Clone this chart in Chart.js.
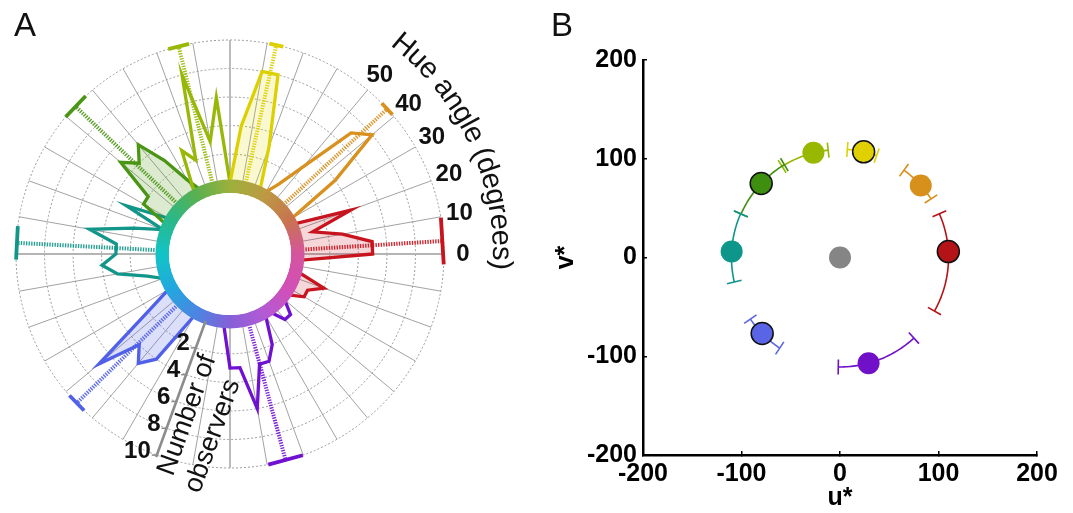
<!DOCTYPE html>
<html>
<head>
<meta charset="utf-8">
<script src="https://cdn.jsdelivr.net/npm/chart.js@4.4.0/dist/chart.umd.min.js"></script>
<style>
  html, body { margin: 0; padding: 0; background: #fff; }
  #wrap { position: relative; width: 1073px; height: 513px; overflow: hidden; }
  canvas { position: absolute; top: 0; }
  #polar { left: 0; }
  #uv { left: 540px; }
  .tag { position: absolute; top: 6px; font: 33px "Liberation Sans", Arial, sans-serif; color: #111; }
</style>
</head>
<body>
<div id="wrap">
  <canvas id="polar" width="540" height="513"></canvas>
  <canvas id="uv" width="533" height="513"></canvas>
  <div class="tag" style="left:14px">A</div>
  <div class="tag" style="left:551px">B</div>
</div>
<script>
// --- panel A: number of observers per 5 deg hue bin, per colour category ---
const categories = ["red", "orange", "yellow", "yellowGreen", "green", "teal", "blue", "purple"];
const redHue = [330, 335, 340, 0, 5, 10, 15, 20];
const redN = [1, 1, 2, 5, 5, 3, 1, 4];
const orangeHue = [35, 40, 45, 50, 55];
const orangeN = [4, 8, 7, 3, 1];
const yellowHue = [70, 75, 80, 85];
const yellowN = [3, 8, 8, 4];
const yellowGreenHue = [95, 100, 105, 110, 115];
const yellowGreenN = [6, 3, 8, 2, 3];
const greenHue = [120, 125, 130, 135, 140, 145, 150];
const greenN = [1, 3, 5, 4, 5, 2, 2];
const tealHue = [155, 165, 170, 175, 180, 185, 190, 195];
const tealN = [3, 2, 5, 3, 3, 4, 3, 1];
const blueHue = [215, 220, 225, 230, 235];
const blueN = [2, 7, 4, 5, 4];
const purpleHue = [270, 275, 280, 285, 290, 295, 310, 315];
const purpleN = [3, 3, 6, 3, 3, 2, 1, 1];

// mean hue angle and its error (degrees)
const meanHue = [3.5, 42.7, 77.5, 103.9, 136.3, 177, 224.2, 285.1];
const hueErr = [6.3, 2.1, 1.9, 2.9, 3.9, 4.5, 2.8, 4.8];

const hueTicks = [0, 10, 20, 30, 40, 50];
const observerTicks = [2, 4, 6, 8, 10];

// --- panel B: u*, v* coordinates (last one is the grey centre) ---
const uStar = [110, 82, 24, -27, -80, -110, -79, 29, 0];
const vStar = [6, 73, 107, 106, 75, 6, -77, -107, 0];
const arcFrom = [-29.5, 32.7, 70.2, 96.3, 121, 156.3, 214.4, 269.1];
const arcTo = [23.7, 53.7, 86.1, 122.5, 156.3, 193, 236.3, 312.6];

const lineColors = ["#c8141e", "#d8901e", "#dcd000", "#98b808", "#4a9614", "#12968a", "#5060e8", "#7010d0"];
const fillColors = ["rgba(200,20,30,0.17)", null, "rgba(225,215,0,0.18)", null, "rgba(80,150,20,0.2)", null, "rgba(80,96,232,0.2)", null];
const dotColors = ["#b41418", "#d8901c", "#e0d000", "#98b800", "#3e8e10", "#0f968a", "#5a64e6", "#7010c8", "#858585"];
const dotBorder = [1.5, 0, 1.5, 0, 1.5, 0, 1.5, 0, 0];

Chart.defaults.font.family = '"Liberation Sans", Arial, sans-serif';

const histHue = [redHue, orangeHue, yellowHue, yellowGreenHue, greenHue, tealHue, blueHue, purpleHue];
const histN = [redN, orangeN, yellowN, yellowGreenN, greenN, tealN, blueN, purpleN];

// radar goes clockwise from the start angle, so bin index i holds hue (360 - 5i)
const binCount = 72;
const binLabels = [];
for (let i = 0; i < binCount; i++) binLabels.push((360 - 5 * i) % 360);
const hueIndex = h => (360 - h) / 5;

const polarSets = categories.map((name, c) => {
  const counts = new Array(binCount).fill(0);
  histHue[c].forEach((h, j) => { counts[binLabels.indexOf(h)] = histN[c][j]; });
  return {
    label: name,
    data: counts,
    borderColor: lineColors[c],
    backgroundColor: fillColors[c] || "rgba(0,0,0,0)",
    fill: fillColors[c] ? "origin" : false
  };
});

const ringStops = [
  [0, "#d4559e"], [1 / 12, "#d24fb6"], [2 / 12, "#b45ad4"], [3 / 12, "#8560d8"],
  [4 / 12, "#4a86e2"], [5 / 12, "#22a8de"], [6 / 12, "#12c4c6"], [7 / 12, "#2ab88a"],
  [8 / 12, "#58b050"], [9 / 12, "#9cb03c"], [10 / 12, "#bc9a42"], [11 / 12, "#c8744e"], [1, "#d4559e"]
];

const polarDecor = {
  id: "polarDecor",
  afterDatasetsDraw(chart) {
    const s = chart.scales.r, ctx = chart.ctx;
    const cx = s.xCenter, cy = s.yCenter;
    const d0 = s.getDistanceFromCenterForValue(0);
    const d10 = s.getDistanceFromCenterForValue(10);
    const rOut = d0 + 3.2, rIn = rOut - 13.5;
    ctx.save();

    // hue wheel ring with white centre
    const g = ctx.createConicGradient(0, cx, cy);
    ringStops.forEach(st => g.addColorStop(st[0], st[1]));
    ctx.beginPath();
    ctx.arc(cx, cy, rOut, 0, Math.PI * 2);
    ctx.arc(cx, cy, rIn, 0, Math.PI * 2, true);
    ctx.fillStyle = g;
    ctx.fill();
    ctx.beginPath();
    ctx.arc(cx, cy, rIn, 0, Math.PI * 2);
    ctx.fillStyle = "#fff";
    ctx.fill();

    // mean hue lines with error caps
    meanHue.forEach((h, c) => {
      const a = s.getPointPosition(hueIndex(h), rOut + 1);
      const b = s.getPointPosition(hueIndex(h), d10);
      ctx.strokeStyle = lineColors[c];
      ctx.globalAlpha = 0.9;
      ctx.lineWidth = 4;
      ctx.setLineDash([1.4, 1.2]);
      ctx.beginPath(); ctx.moveTo(a.x, a.y); ctx.lineTo(b.x, b.y); ctx.stroke();
      ctx.globalAlpha = 1;
      ctx.setLineDash([]);
      const p = s.getPointPosition(hueIndex(h + hueErr[c]), d10);
      const q = s.getPointPosition(hueIndex(h - hueErr[c]), d10);
      ctx.lineWidth = 3.8;
      ctx.beginPath(); ctx.moveTo(p.x, p.y); ctx.lineTo(q.x, q.y); ctx.stroke();
    });

    // hue angle labels
    ctx.fillStyle = "#111";
    ctx.font = "bold 24px 'Liberation Sans', Arial, sans-serif";
    ctx.textAlign = "center";
    ctx.textBaseline = "middle";
    hueTicks.forEach(h => {
      const p = s.getPointPosition(hueIndex(h), d10 + 19);
      ctx.fillText(String(h), p.x, p.y);
    });

    // curved axis title
    ctx.font = "29px 'Liberation Sans', Arial, sans-serif";
    const R = d10 + 57;
    let ang = 52.5 * Math.PI / 180;
    for (const ch of "Hue angle (degrees)") {
      const w = ctx.measureText(ch).width;
      const mid = ang - (w / 2) / R;
      ctx.save();
      ctx.translate(cx + R * Math.cos(-mid), cy + R * Math.sin(-mid));
      ctx.rotate(-mid + Math.PI / 2);
      ctx.fillText(ch, 0, 0);
      ctx.restore();
      ang -= w / R;
    }

    // observer count axis along hue 250
    const axHue = 250;
    const pa = s.getPointPosition(hueIndex(axHue), d0);
    const pb = s.getPointPosition(hueIndex(axHue), d10 + 2);
    ctx.strokeStyle = "#8c8c8c";
    ctx.lineWidth = 2.6;
    ctx.beginPath(); ctx.moveTo(pa.x, pa.y); ctx.lineTo(pb.x, pb.y); ctx.stroke();
    ctx.font = "bold 24px 'Liberation Sans', Arial, sans-serif";
    ctx.textAlign = "right";
    ctx.lineWidth = 1.5;
    observerTicks.forEach(v => {
      const p = s.getPointPosition(hueIndex(axHue), s.getDistanceFromCenterForValue(v));
      ctx.beginPath(); ctx.moveTo(p.x, p.y); ctx.lineTo(p.x - 5, p.y); ctx.stroke();
      ctx.fillText(String(v), p.x - 6, p.y - 4);
    });

    const phi = -axHue * Math.PI / 180;
    const ux = Math.cos(phi), uy = Math.sin(phi);
    const rot = Math.atan2(-uy, -ux);
    const nx = -Math.sin(rot), ny = Math.cos(rot);
    ctx.font = "27px 'Liberation Sans', Arial, sans-serif";
    ctx.textAlign = "center";
    [["Number of", 166, 15], ["observers", 177, 46]].forEach(([txt, along, perp]) => {
      const x = cx + ux * along + nx * perp, y = cy + uy * along + ny * perp;
      ctx.save();
      ctx.translate(x, y);
      ctx.rotate(rot);
      ctx.fillText(txt, 0, 0);
      ctx.restore();
    });
    ctx.restore();
  }
};

new Chart(document.getElementById("polar"), {
  type: "radar",
  data: { labels: binLabels, datasets: polarSets },
  options: {
    responsive: false,
    animation: false,
    layout: { padding: { left: 16, top: 40, right: 96, bottom: 45 } },
    plugins: { legend: { display: false }, tooltip: { enabled: false } },
    elements: {
      point: { radius: 0, hoverRadius: 0 },
      line: { borderWidth: 3.3, tension: 0, borderJoinStyle: "miter" }
    },
    scales: {
      r: {
        min: -5,
        max: 10,
        startAngle: 90,
        ticks: { display: false, stepSize: 2 },
        pointLabels: { display: false },
        grid: {
          circular: true,
          lineWidth: 1,
          color: c => (c.tick && c.tick.value > 0 ? "#9a9a9a" : "rgba(0,0,0,0)")
        },
        border: { dash: [2, 2] },
        angleLines: {
          color: c => {
            const h = binLabels[c.index];
            if (h % 10 !== 0) return "rgba(0,0,0,0)";
            return h % 90 === 0 ? "#b4b4b4" : "#8a8a8a";
          },
          lineWidth: c => (binLabels[c.index] % 90 === 0 ? 1.8 : 0.8)
        }
      }
    }
  },
  plugins: [polarDecor]
});

// --- panel B ---
const uvArcs = {
  id: "uvArcs",
  beforeDatasetsDraw(chart) {
    const xs = chart.scales.x, ys = chart.scales.y, ctx = chart.ctx;
    const toPx = (r, deg) => {
      const t = deg * Math.PI / 180;
      return [xs.getPixelForValue(r * Math.cos(t)), ys.getPixelForValue(r * Math.sin(t))];
    };
    ctx.save();
    ctx.lineWidth = 1.6;
    arcFrom.forEach((a0, i) => {
      const r = Math.hypot(uStar[i], vStar[i]);
      ctx.strokeStyle = dotColors[i];
      ctx.beginPath();
      const steps = Math.max(2, Math.ceil(Math.abs(arcTo[i] - a0)));
      for (let k = 0; k <= steps; k++) {
        const [px, py] = toPx(r, a0 + (arcTo[i] - a0) * k / steps);
        if (k === 0) ctx.moveTo(px, py); else ctx.lineTo(px, py);
      }
      ctx.stroke();
      [a0, arcTo[i]].forEach(e => {
        const [x1, y1] = toPx(r - 7.6, e);
        const [x2, y2] = toPx(r + 7.6, e);
        ctx.beginPath(); ctx.moveTo(x1, y1); ctx.lineTo(x2, y2); ctx.stroke();
      });
    });
    ctx.restore();
  }
};

const axisFont = { size: 25, weight: "bold" };

new Chart(document.getElementById("uv"), {
  type: "scatter",
  data: {
    datasets: [{
      data: uStar.map((u, i) => ({ x: u, y: vStar[i] })),
      pointRadius: 11,
      pointHoverRadius: 11,
      pointBackgroundColor: dotColors,
      pointBorderColor: "#111",
      pointBorderWidth: dotBorder
    }]
  },
  options: {
    responsive: false,
    animation: false,
    layout: { padding: { left: 0, top: 60, right: 36, bottom: 0 } },
    plugins: { legend: { display: false }, tooltip: { enabled: false } },
    scales: {
      x: {
        min: -200, max: 200,
        ticks: { stepSize: 100, color: "#000", font: axisFont, padding: 8, maxRotation: 0 },
        grid: { drawOnChartArea: false, tickLength: -4, color: "#000", lineWidth: 1.5 },
        border: { color: "#000", width: 2.5 },
        title: { display: true, text: "u*", color: "#000", font: axisFont, padding: { top: 2, bottom: 0 } },
        afterFit: s => { s.height = 58; }
      },
      y: {
        min: -200, max: 200,
        ticks: { stepSize: 100, color: "#000", font: axisFont, padding: 10 },
        grid: { drawOnChartArea: false, tickLength: -4, color: "#000", lineWidth: 1.5 },
        border: { color: "#000", width: 2.5 },
        title: { display: true, text: "v*", color: "#000", font: axisFont, padding: { top: 11, bottom: 0 } },
        afterFit: s => { s.width = 103; }
      }
    }
  },
  plugins: [uvArcs]
});
</script>
</body>
</html>
